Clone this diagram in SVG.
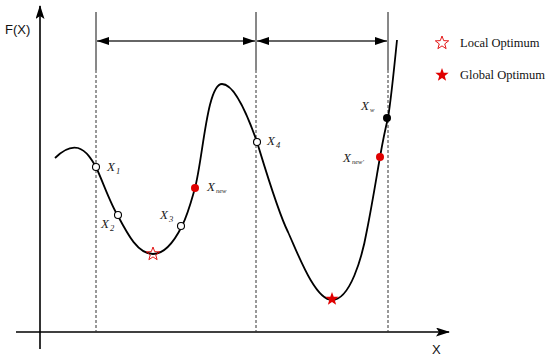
<svg xmlns="http://www.w3.org/2000/svg" width="550" height="360" viewBox="0 0 550 360">
<style>
.axis{stroke:#000;stroke-width:1.6;fill:none}
.vsolid{stroke:#111;stroke-width:1;fill:none}
.vdash{stroke:#333;stroke-width:1;stroke-dasharray:3,2;fill:none}
.dim{stroke:#333;stroke-width:1.4;fill:none}
.curve{stroke:#000;stroke-width:1.8;fill:none}
.pt{fill:#fff;stroke:#000;stroke-width:1.1}
.red{fill:#e00000}
.blk{fill:#000}
.lab{font-family:"Liberation Serif","Times New Roman",serif;font-style:italic;font-size:13px;fill:#222}
.sub{font-size:8.5px}
.sub2{font-size:6.5px}
.ax{font-family:"Liberation Sans",Arial,sans-serif;font-size:13px;fill:#111}
.leg{font-family:"Liberation Serif","Times New Roman",serif;font-size:12.5px;fill:#111}
</style>
<defs>
<marker id="ah" viewBox="0 0 12 8" refX="12" refY="4" markerWidth="12" markerHeight="8" markerUnits="userSpaceOnUse" orient="auto-start-reverse"><path d="M0,0 L12,4 L0,8 Z" fill="#000"/></marker>
<marker id="axh" viewBox="0 0 14 9" refX="13" refY="4.5" markerWidth="14" markerHeight="9" markerUnits="userSpaceOnUse" orient="auto"><path d="M0,0 L14,4.5 L0,9 L3,4.5 Z" fill="#000"/></marker>
<polygon id="star" points="0,-7 1.705,-2.346 6.657,-2.163 2.758,0.896 4.114,5.663 0,2.9 -4.114,5.663 -2.758,0.896 -6.657,-2.163 -1.705,-2.346"/>
</defs>
<g id="axes">
<line class="axis" x1="40" y1="349" x2="40" y2="6" marker-end="url(#axh)"/>
<line class="axis" x1="16" y1="332" x2="449" y2="332" marker-end="url(#axh)"/>
<text class="ax" x="5" y="34">F(X)</text>
<text class="ax" x="432" y="354">X</text>
</g>
<g id="connectors">
<line class="vsolid" x1="96" y1="12" x2="96" y2="70"/>
<line class="vdash" x1="96" y1="70" x2="96" y2="332"/>
<line class="vsolid" x1="256" y1="12" x2="256" y2="70"/>
<line class="vdash" x1="256" y1="70" x2="256" y2="332"/>
<line class="vsolid" x1="388" y1="12" x2="388" y2="70"/>
<line class="vdash" x1="388" y1="70" x2="388" y2="332"/>
<line class="dim" x1="97" y1="41" x2="255" y2="41" marker-start="url(#ah)" marker-end="url(#ah)"/>
<line class="dim" x1="257" y1="41" x2="387" y2="41" marker-start="url(#ah)" marker-end="url(#ah)"/>
</g>
<g id="curve">
<path class="curve" d="M55,158 C63,150 70,146 78,148 C87,151 92,160 96,167 C103,182 110,203 118,216 C128,235 138,254 153,254 C166,254 176,238 182,226 C188,214 191,202 195,188 C203,158 207,84 222,84 C236,84 250,122 257,142 C265,168 278,212 288,232 C298,254 315,300 332,300 C350,300 362,258 367,230 C372,205 376,180 380,157 C383,140 385,130 388,118 C391,100 394,70 397,40"/>
</g>
<g id="x1"><circle class="pt" cx="96" cy="167" r="3.5"/><text class="lab" x="107" y="171">X<tspan class="sub" dx="1" dy="3">1</tspan></text></g>
<g id="x2"><circle class="pt" cx="118" cy="215" r="3.5"/><text class="lab" x="101" y="228">X<tspan class="sub" dx="1" dy="3">2</tspan></text></g>
<g id="x3"><circle class="pt" cx="181" cy="226" r="3.5"/><text class="lab" x="160" y="219">X<tspan class="sub" dx="1" dy="3">3</tspan></text></g>
<g id="xnew"><circle class="red" cx="195" cy="188" r="4"/><text class="lab" x="207" y="191">X<tspan class="sub2" dx="1" dy="2">new</tspan></text></g>
<g id="x4"><circle class="pt" cx="257" cy="142" r="3.5"/><text class="lab" x="267" y="145">X<tspan class="sub" dx="1" dy="3">4</tspan></text></g>
<g id="xnew2"><circle class="red" cx="380" cy="157" r="4"/><text class="lab" x="343" y="162">X<tspan class="sub2" dx="1" dy="2">new'</tspan></text></g>
<g id="xw"><circle class="blk" cx="387" cy="118" r="4"/><text class="lab" x="361" y="110">X<tspan class="sub2" dx="1" dy="2">w</tspan></text></g>
<g id="local-opt"><use href="#star" x="153" y="254" fill="none" stroke="#e00000" stroke-width="0.9"/></g>
<g id="global-opt"><use href="#star" x="332" y="299" fill="#e00000"/></g>
<g id="legend">
<use href="#star" x="442" y="43" fill="none" stroke="#e00000" stroke-width="0.9"/>
<text class="leg" x="460" y="47">Local Optimum</text>
<use href="#star" x="442" y="75" fill="#e00000"/>
<text class="leg" x="460" y="79">Global Optimum</text>
</g>
</svg>
